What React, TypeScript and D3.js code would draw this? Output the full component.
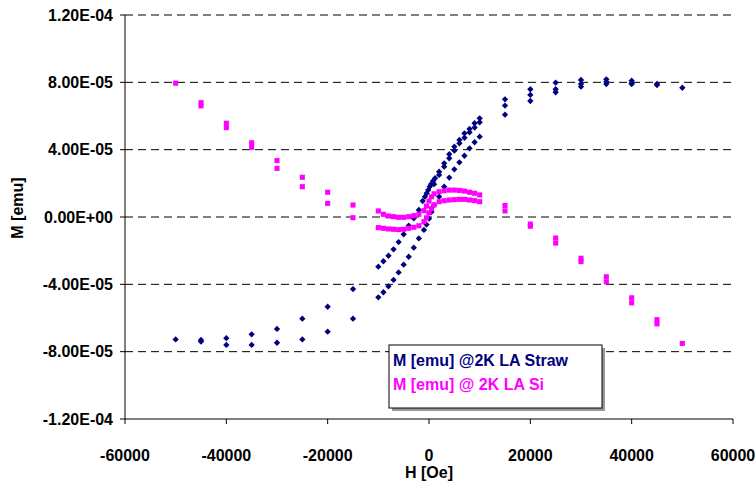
import React from 'react';
import * as d3 from 'd3';

// field values [Oe] and moments [emu]
const strawDescH = [50000, 45000, 40000, 35000, 30000, 25000, 20000, 15000, 10000, 9000, 8000, 7000, 6000, 5000, 4000, 3000, 2000, 1200, 800, 400, 150, -150, -450, -800, -1250, -2000, -3000, -4000, -5000, -6000, -7000, -8000, -9000, -10000, -15000, -20000, -25000, -30000, -35000, -40000, -45000, -50000];
const strawDescM = [7.68, 7.9, 8.1, 8.18, 8.14, 7.98, 7.59, 6.99, 5.86, 5.57, 5.23, 4.97, 4.58, 4.18, 3.73, 3.19, 2.69, 2.3, 2.14, 1.95, 1.8, 1.6, 1.41, 1.21, 0.95, 0.42, -0.08, -0.52, -1.03, -1.49, -1.92, -2.3, -2.63, -2.95, -4.28, -5.33, -6.04, -6.65, -6.97, -7.2, -7.3, -7.27];

const strawVirginH = [1000, 2000, 3000, 4000, 5000, 6000, 7000, 8000, 9000, 10000, 15000, 20000, 25000, 30000, 35000, 40000];
const strawVirginM = [1.95, 2.5, 2.99, 3.49, 3.94, 4.38, 4.71, 5.03, 5.31, 5.63, 6.62, 7.25, 7.59, 7.9, 8.04, 7.95];

const strawAscH = [-45000, -40000, -35000, -30000, -25000, -20000, -15000, -10000, -9000, -8000, -7000, -6000, -5000, -4000, -3000, -2000, -1000, -500, 0, 500, 1000, 2000, 3000, 4000, 5000, 6000, 7000, 8000, 9000, 10000, 15000, 20000, 25000, 30000, 35000, 40000, 45000];
const strawAscM = [-7.4, -7.6, -7.6, -7.47, -7.27, -6.81, -6.04, -4.77, -4.47, -4.12, -3.74, -3.29, -2.83, -2.36, -1.82, -1.27, -0.77, -0.45, -0.1, 0.3, 0.71, 1.21, 1.8, 2.34, 2.83, 3.25, 3.64, 4.08, 4.44, 4.77, 6.08, 6.89, 7.41, 7.74, 7.9, 7.9, 7.84];

const siUpperH = [-50000, -45000, -40000, -35000, -30000, -25000, -20000, -15000, -10000, -9000, -8000, -7000, -6000, -5000, -4000, -3000, -2000, -1000, -500, 0, 500, 1000, 2000, 3000, 4000, 5000, 6000, 7000, 8000, 9000, 10000, 15000, 20000, 25000, 30000, 35000, 40000, 45000, 50000];
const siUpperM = [7.95, 6.79, 5.57, 4.41, 3.35, 2.36, 1.47, 0.71, 0.36, 0.16, 0.06, 0.02, -0.02, -0.02, 0.02, 0.08, 0.16, 0.38, 0.65, 0.95, 1.2, 1.38, 1.5, 1.56, 1.6, 1.6, 1.58, 1.54, 1.47, 1.41, 1.31, 0.68, -0.42, -1.25, -2.45, -3.55, -4.8, -6.1, -7.51];

const siLowerH = [-45000, -40000, -35000, -30000, -25000, -20000, -15000, -10000, -9000, -8000, -7000, -6000, -5000, -4000, -3000, -2000, -1000, -500, 0, 500, 1000, 2000, 3000, 4000, 5000, 6000, 7000, 8000, 9000, 10000, 15000, 20000, 25000, 30000, 35000, 40000, 45000];
const siLowerM = [6.6, 5.31, 4.14, 2.89, 1.8, 0.81, -0.04, -0.63, -0.67, -0.71, -0.73, -0.75, -0.73, -0.67, -0.61, -0.52, -0.28, -0.05, 0.25, 0.5, 0.72, 0.91, 0.97, 1.01, 1.03, 1.05, 1.05, 1.01, 0.97, 0.91, 0.36, -0.55, -1.55, -2.65, -3.85, -5.1, -6.35];

const xTicks = [-60000, -40000, -20000, 0, 20000, 40000, 60000];
const yTicks = [-1.2e-4, -8e-5, -4e-5, 0, 4e-5, 8e-5, 1.2e-4];
const legendLabels = ['M [emu] @2K LA Straw', 'M [emu] @ 2K LA Si'];

const NAVY = '#000080';
const MAGENTA = '#FF00FF';
const FONT = '"Liberation Sans", Arial, sans-serif';

const zip = (h: number[], m: number[]) => h.map((v, i) => ({ h: v, m: m[i] * 1e-5 }));

const fmtSci = (v: number) => {
	const [mant, exp] = v.toExponential(2).split('e');
	const sign = exp[0] === '-' ? '-' : '+';
	const digits = exp.replace(/[+-]/, '').padStart(2, '0');
	return `${mant}E${sign}${digits}`;
};

export default function App() {
	const width = 756;
	const height = 496;
	const left = 125;
	const right = 733;
	const top = 15;
	const bottom = 419;

	const x = d3.scaleLinear().domain([-60000, 60000]).range([left, right]);
	const y = d3.scaleLinear().domain([-1.2e-4, 1.2e-4]).range([bottom, top]);

	const diamond = d3.symbol(d3.symbolSquare, 20)();
	const square = d3.symbol(d3.symbolSquare, 26)();

	const straw = [...zip(strawDescH, strawDescM), ...zip(strawVirginH, strawVirginM), ...zip(strawAscH, strawAscM)];
	const si = [...zip(siUpperH, siUpperM), ...zip(siLowerH, siLowerM)];

	return (
		<svg width={width} height={height} style={{ position: 'absolute', left: 0, top: 0 }} fontFamily={FONT}>
			<rect width={width} height={height} fill="#fff" />
			{/* gridlines */}
			{yTicks.filter((t) => t !== -1.2e-4).map((t) => (
				<line key={t} x1={left} x2={right} y1={y(t)} y2={y(t)} stroke="#000" strokeDasharray="8,5" />
			))}
			{/* axes */}
			<line x1={left} x2={left} y1={top} y2={bottom} stroke="#000" />
			<line x1={left} x2={right} y1={bottom} y2={bottom} stroke="#000" />
			{yTicks.map((t) => (
				<g key={'y' + t}>
					<line x1={left - 5} x2={left} y1={y(t)} y2={y(t)} stroke="#000" />
					<text x={left - 12} y={y(t)} dy="0.36em" textAnchor="end" fontSize={16} fontWeight="bold">
						{fmtSci(t)}
					</text>
				</g>
			))}
			{xTicks.map((t) => (
				<g key={'x' + t}>
					<line x1={x(t)} x2={x(t)} y1={bottom} y2={bottom + 5} stroke="#000" />
					<text x={x(t)} y={bottom + 42} textAnchor="middle" fontSize={16} fontWeight="bold">
						{t}
					</text>
				</g>
			))}
			<text x={x(0)} y={478} textAnchor="middle" fontSize={16} fontWeight="bold">
				H [Oe]
			</text>
			<text transform={`translate(23,${y(0) - 9}) rotate(-90)`} textAnchor="middle" fontSize={16} fontWeight="bold">
				M [emu]
			</text>
			{/* data */}
			{straw.map((d, i) => (
				<path key={'s' + i} d={diamond!} transform={`translate(${x(d.h)},${y(d.m)}) rotate(45)`} fill={NAVY} />
			))}
			{si.map((d, i) => (
				<path key={'m' + i} d={square!} transform={`translate(${x(d.h)},${y(d.m)})`} fill={MAGENTA} />
			))}
			{/* legend */}
			<rect x={392} y={348} width={213} height={63} fill="#999" />
			<rect x={389} y={345} width={213} height={63} fill="#fff" stroke="#000" />
			{legendLabels.map((l, i) => (
				<text key={l} x={393} y={366 + i * 24} fontSize={16} fontWeight="bold" fill={i === 0 ? NAVY : MAGENTA}>
					{l}
				</text>
			))}
		</svg>
	);
}
